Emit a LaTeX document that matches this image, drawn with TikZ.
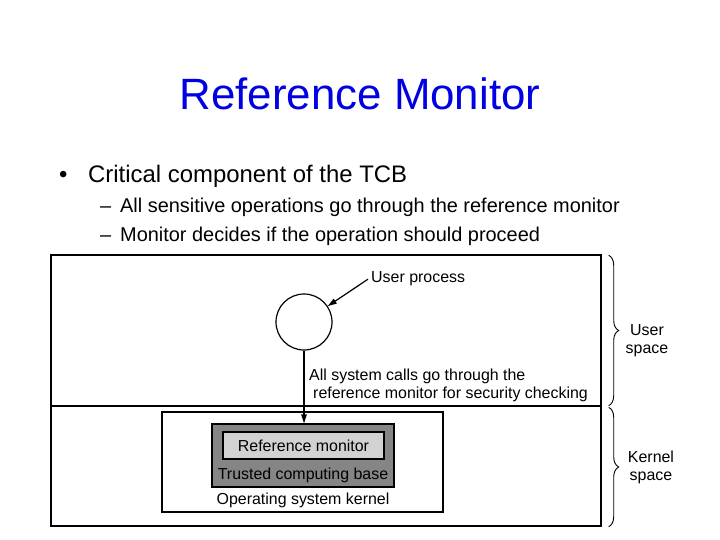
\documentclass[tikz,border=0pt]{standalone}
\usepackage{fontspec}
\setmainfont{Liberation Sans}
\usepackage{tikz}
\usetikzlibrary{arrows.meta, positioning, calc, decorations.pathreplacing}
\definecolor{TitleBlue}{HTML}{0000E0}
\definecolor{TcbGray}{HTML}{858585}
\definecolor{RmGray}{HTML}{D2D2D2}
\tikzset{
  lbl/.style={font=\fontsize{16}{18}\selectfont, inner sep=0pt},
  slidetxt/.style={anchor=base west, inner sep=0pt, font=\fontsize{#1}{#1}\selectfont},
  area/.style={draw, line width=1.4bp, minimum width=550bp, inner sep=0pt},
  box/.style={draw, line width=1.2bp, inner sep=0pt},
  arr/.style={line width=1.2bp, -{Triangle[length=9bp, width=5.5bp]}},
  brace/.style={line width=0.9bp, decorate, decoration={brace, amplitude=10bp}}
}
\begin{document}
\begin{tikzpicture}[x=1bp, y=-1bp]
  \useasboundingbox (0,0) rectangle (720,540);
  % title and bullets
  \node[anchor=base, font=\fontsize{44}{50}\selectfont\color{TitleBlue}] (title) at (360,110) {Reference Monitor};
  \node[slidetxt=24] (dot) at (59,183) {•};
  \node[slidetxt=24] (tcbline) at (88,183) {Critical component of the TCB};
  \foreach \y/\txt [count=\k] in {213/All sensitive operations go through the reference monitor,
                                  242/Monitor decides if the operation should proceed} {
    \node[slidetxt=20] (dash\k) at (100,\y) {–};
    \node[slidetxt=20] (sub\k) at (120,\y) {\txt};
  }
  % user space / kernel space
  \node[area, minimum height=151bp] (userarea) at (326,330.5) {};
  \node[area, minimum height=120bp] (kernelarea) at (326,466) {};
  \node[draw, circle, line width=1.2bp, minimum size=56bp, inner sep=0pt] (proc) at (304,322) {};
  \node[lbl, anchor=base west] (proclbl) at (371,283) {User process};
  \draw[arr] ([xshift=-3bp]proclbl.west) -- (proc);
  % kernel boxes
  \node[box, minimum width=281bp, minimum height=100bp] (kernel) at (302.5,462) {};
  \node[box, fill=TcbGray, minimum width=182bp, minimum height=63bp] (tcb) at (303,455.5) {};
  \node[box, fill=RmGray, minimum width=161bp, minimum height=27bp, lbl] (refmon) at (303.5,445.5) {Reference monitor};
  \node[lbl, anchor=base] (tcblbl) at (303,479) {Trusted computing base};
  \node[lbl, anchor=base] (kernellbl) at (303,504) {Operating system kernel};
  \draw[arr] (proc.south) -- (proc.south |- tcb.north);
  \node[lbl, anchor=base west] (calls1) at (309,380) {All system calls go through the};
  \node[lbl, anchor=base west] (calls2) at (313,398) {reference monitor for security checking};
  % braces on the right
  \coordinate (ub1) at ($(userarea.north east)+(7,1)$);
  \coordinate (ub2) at ($(userarea.south east)+(7,-1)$);
  \coordinate (kb1) at ($(kernelarea.north east)+(7,2)$);
  \coordinate (kb2) at ($(kernelarea.south east)+(7,0)$);
  \draw[brace] (ub1) -- (ub2);
  \draw[brace] (kb1) -- (kb2);
  \node[lbl, align=center] (usersp) at (647,341) {User\\space};
  \node[lbl, align=center] (kernelsp) at (651,467) {Kernel\\space};
\end{tikzpicture}
\end{document}
